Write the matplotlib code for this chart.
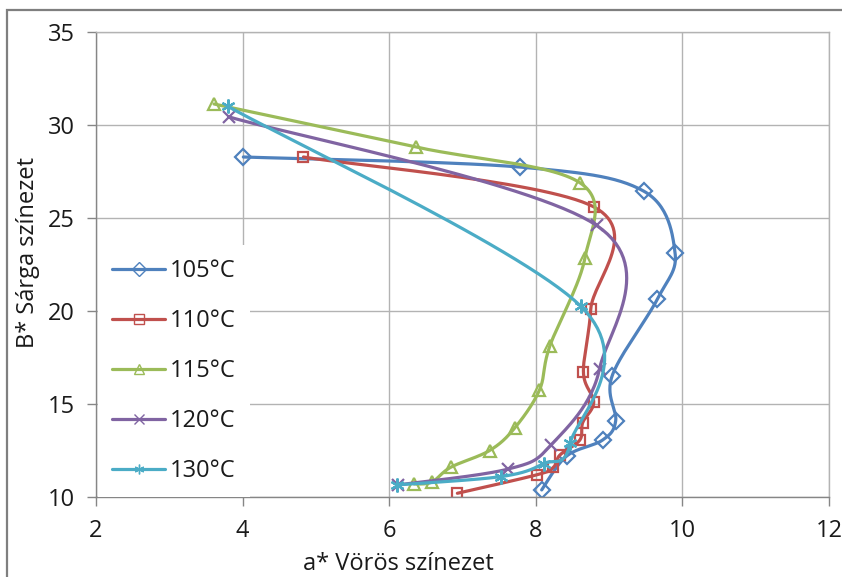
import numpy as np
import matplotlib
matplotlib.use('Agg')
import matplotlib.pyplot as plt
from matplotlib.patches import Rectangle

plt.rcParams['font.family'] = ['Open Sans', 'DejaVu Sans']

labels = ['105°C', '110°C', '115°C', '120°C', '130°C']
colors = ['#4F81BD', '#C0504D', '#9BBB59', '#8064A2', '#4BACC6']
markers = ['D', 's', '^', 'x', (6, 2, 0)]
msizes = [8.5, 7.5, 9, 9, 10]

# a* (x) and b* (y)
a105 = [4.01, 7.78, 9.47, 9.90, 9.66, 9.04, 9.09, 8.91, 8.42, 8.08]
b105 = [28.28, 27.74, 26.45, 23.12, 20.65, 16.5, 14.1, 13.06, 12.2, 10.38]
a110 = [4.83, 8.79, 8.75, 8.65, 8.79, 8.64, 8.60, 8.33, 8.24, 8.02, 6.93]
b110 = [28.28, 25.6, 20.1, 16.7, 15.1, 14.0, 13.06, 12.26, 11.6, 11.2, 10.2]
a115 = [3.61, 6.36, 8.60, 8.67, 8.19, 8.05, 7.71, 7.37, 6.84, 6.58, 6.34]
b115 = [31.13, 28.82, 26.9, 22.85, 18.1, 15.75, 13.7, 12.5, 11.6, 10.8, 10.7]
a120 = [3.82, 8.83, 8.87, 8.21, 7.62, 6.12]
b120 = [30.43, 24.6, 16.9, 12.8, 11.5, 10.65]
a130 = [3.80, 8.61, 8.47, 8.11, 7.53, 6.10]
b130 = [31.0, 20.27, 12.9, 11.8, 11.1, 10.65]

series = [(a105, b105), (a110, b110), (a115, b115), (a120, b120), (a130, b130)]


def smooth(x, y, n=30):
    # excel-like smoothed line (catmull-rom as bezier)
    p = np.column_stack([x, y])
    out = [p[0]]
    t = np.linspace(0, 1, n + 1)[1:, None]
    for i in range(len(p) - 1):
        p0 = p[max(i - 1, 0)]
        p1 = p[i]
        p2 = p[i + 1]
        p3 = p[min(i + 2, len(p) - 1)]
        c1 = p1 + (p2 - p0) / 6
        c2 = p2 - (p3 - p1) / 6
        seg = (1 - t) ** 3 * p1 + 3 * (1 - t) ** 2 * t * c1 + 3 * (1 - t) * t ** 2 * c2 + t ** 3 * p2
        out.extend(seg)
    out = np.array(out)
    return out[:, 0], out[:, 1], list(range(0, len(out), n))


fs = 17

fig = plt.figure(figsize=(8.42, 5.77), dpi=100)
ax = fig.add_axes([96 / 842, 80 / 577, 733 / 842, 465 / 577])

for (xs, ys), lab, c, m, ms in zip(series, labels, colors, markers, msizes):
    sx, sy, idx = smooth(xs, ys)
    ax.plot(sx, sy, color=c, lw=2.3, marker=m, markevery=idx, ms=ms,
            mfc='none', mec=c, mew=1.6, label=lab, solid_capstyle='round')

ax.set_xlim(2, 12)
ax.set_ylim(10, 35)
ax.set_xticks(range(2, 13, 2))
ax.set_yticks(range(10, 36, 5))
ax.grid(color='#b3b3b3', lw=1)
ax.set_axisbelow(True)
for s in ['top', 'right']:
    ax.spines[s].set_color('#b3b3b3')
    ax.spines[s].set_linewidth(1)
for s in ['left', 'bottom']:
    ax.spines[s].set_color('#868686')
    ax.spines[s].set_linewidth(1)
ax.tick_params(direction='out', length=6.5, width=1, color='#868686',
               labelsize=fs, labelcolor='#1a1a1a', pad=9)

leg = ax.legend(loc='upper left', bbox_to_anchor=(0.003, 0.542), borderaxespad=0,
                fontsize=fs, frameon=True, fancybox=False, edgecolor='none',
                facecolor='white', framealpha=1, borderpad=0.6, handlelength=2.25,
                handletextpad=0.2, labelspacing=1.1)
for h in leg.legend_handles:
    h.set_markersize(7)
    h.set_markeredgewidth(1)
for t in leg.get_texts():
    t.set_color('#1a1a1a')

fig.text(28 / 842, 1 - 252 / 577, 'B* Sárga színezet', rotation=90, ha='center',
         va='center', fontsize=fs, color='#1a1a1a')
fig.text(398 / 842, 7 / 577, 'a* Vörös színezet', ha='center', va='baseline',
         fontsize=fs, color='#1a1a1a')

fig.patches.append(Rectangle((7 / 842, -0.1), 1.2, (577 - 10) / 577 + 0.1,
                             transform=fig.transFigure, fill=False,
                             edgecolor='#7f7f7f', lw=1.6))

fig.savefig('out.png', dpi=100)
